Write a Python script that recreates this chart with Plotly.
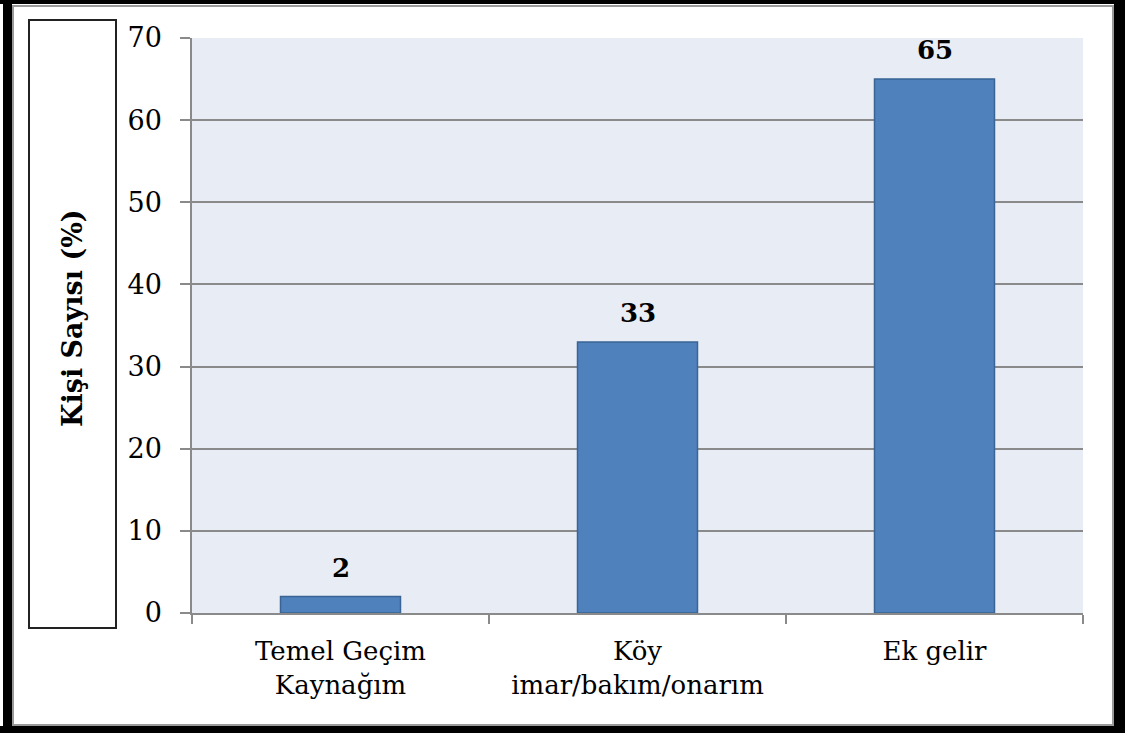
import plotly.graph_objects as go

categories = ["Temel Geçim<br>Kaynağım", "Köy<br>imar/bakım/onarım", "Ek gelir"]
values = [2, 33, 65]
y_title = "Kişi Sayısı (%)"
y_ticks = [0, 10, 20, 30, 40, 50, 60, 70]

W, H = 1125, 733
L, R, T, B = 192, 42, 38, 120
PW, PH = W - L - R, H - T - B

def px(x):
    return (x - L) / PW

def py(y):
    return (H - B - y) / PH

FONT = "DejaVu Serif"
GRID = "#8a8a8a"

fig = go.Figure()
fig.add_trace(go.Bar(
    x=categories, y=values,
    marker=dict(color="#4F81BD", line=dict(color="#3A6494", width=1.5)),
    width=0.404,
    hoverinfo="skip",
))

annotations = []
for c, v in zip(categories, values):
    annotations.append(dict(
        x=c, y=v, xref="x", yref="y", text=f"<b>{v}</b>", showarrow=False,
        yanchor="middle", yshift=29,
        font=dict(family=FONT, size=26, color="black"),
    ))
annotations.append(dict(
    x=px(72), y=py(318), xref="paper", yref="paper", text=f"<b>{y_title}</b>",
    textangle=-90, showarrow=False, xanchor="center", yanchor="middle",
    font=dict(family=FONT, size=27, color="black"),
))

shapes = []
# outer black frame pieces
for (x0, y0, x1, y1) in [(3, 0, 12, H), (0, 0, W, 4), (1114, 0, W, H), (0, 726, W, H)]:
    shapes.append(dict(type="rect", xref="paper", yref="paper",
                       x0=px(x0), x1=px(x1), y0=py(y0), y1=py(y1),
                       fillcolor="black", line=dict(width=0), layer="above"))
# inner gray frame
shapes.append(dict(type="rect", xref="paper", yref="paper",
                   x0=px(13), x1=px(1113), y0=py(6), y1=py(725),
                   line=dict(color="#9a9a9a", width=2), layer="above"))
# box around y title
shapes.append(dict(type="rect", xref="paper", yref="paper",
                   x0=px(29), x1=px(116), y0=py(20), y1=py(628),
                   line=dict(color="#222222", width=2), layer="above"))

fig.update_layout(
    width=W, height=H,
    margin=dict(l=L, r=R, t=T, b=B, pad=0),
    paper_bgcolor="white",
    plot_bgcolor="#E8ECF4",
    showlegend=False,
    annotations=annotations,
    shapes=shapes,
    font=dict(family=FONT, size=26, color="black"),
)
fig.update_xaxes(
    type="category", range=[-0.5, 2.5], tickson="boundaries",
    ticks="outside", ticklen=9, tickcolor=GRID, tickwidth=1.5,
    showline=True, linecolor=GRID, linewidth=1.5,
    showgrid=False, ticklabelstandoff=14,
    tickfont=dict(family=FONT, size=26, color="black"),
)
fig.update_yaxes(
    range=[0, 70], tickvals=y_ticks,
    ticks="outside", ticklen=10, tickcolor=GRID, tickwidth=1.5,
    showline=True, linecolor=GRID, linewidth=1.5,
    showgrid=True, gridcolor=GRID, gridwidth=1.5, zeroline=False,
    ticklabelstandoff=13,
    tickfont=dict(family=FONT, size=27, color="black"),
)

fig.write_html(
    "out.html",
    config={"displayModeBar": False},
    post_script="document.body.style.margin='0';document.body.style.overflow='hidden';",
)
